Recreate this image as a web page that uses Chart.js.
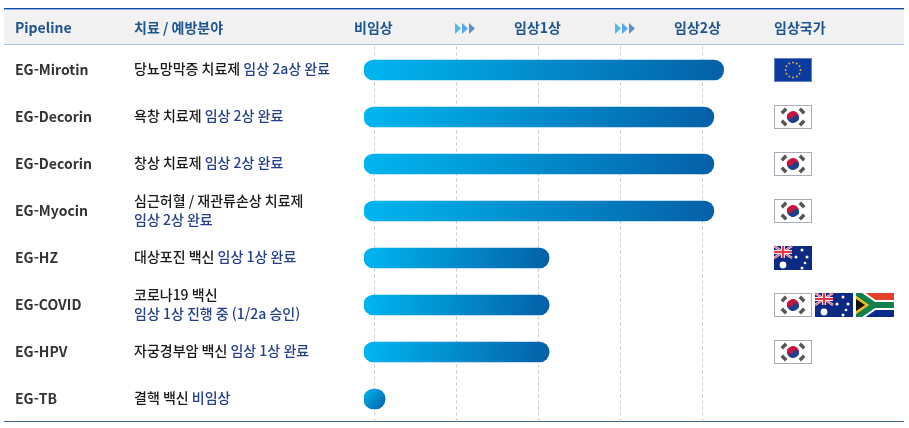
<!DOCTYPE html>
<html lang="ko">
<head>
<meta charset="utf-8">
<title>Pipeline</title>
<script src="https://cdn.jsdelivr.net/npm/chart.js@4/dist/chart.umd.min.js"></script>
<style>
html,body{margin:0;padding:0;background:#fff;}
canvas{display:block;}
</style>
</head>
<body>
<canvas id="c" width="909" height="428"></canvas>
<script>
const pipelines=["EG-Mirotin","EG-Decorin","EG-Decorin","EG-Myocin","EG-HZ","EG-COVID","EG-HPV","EG-TB"];
const treatments=["당뇨망막증 치료제","욕창 치료제","창상 치료제","심근허혈 / 재관류손상 치료제","대상포진 백신","코로나19 백신","자궁경부암 백신","결핵 백신"];
const statuses=["임상 2a상 완료","임상 2상 완료","임상 2상 완료","임상 2상 완료","임상 1상 완료","임상 1상 진행 중 (1/2a 승인)","임상 1상 완료","비임상"];
const twoLines=[false,false,false,true,false,true,false,false];
const barStart=[-0.13,-0.13,-0.13,-0.13,-0.13,-0.13,-0.13,-0.13];
const barEnd=[4.26,4.14,4.14,4.14,2.13,2.13,2.13,0.13];
const countries=[["EU"],["KR"],["KR"],["KR"],["AU"],["KR","AU","ZA"],["KR"],[]];
const headers=[["Pipeline",15],["치료 / 예방분야",134],["비임상",354],["임상1상",514],["임상2상",674],["임상국가",774]];
const arrowX=[455,615];

const FONT='"Noto Sans CJK KR"';
const BLACK="#1a1a1a",BLUE="#243f8c",HEAD="#1d5590";

function barGradient(ctx){
  const chart=ctx.chart;
  if(ctx.type!=="data"||!chart.chartArea)return "#0280c8";
  const x=chart.scales.x,i=ctx.dataIndex,y=chart.scales.y.getPixelForValue(i);
  const g=chart.ctx.createLinearGradient(x.getPixelForValue(barStart[i]),y-10,x.getPixelForValue(barEnd[i]),y+10);
  g.addColorStop(0,"#00b6f0");
  g.addColorStop(1,"#0560a8");
  return g;
}

function flagKR(c,x,y){
  c.fillStyle="#fff";c.fillRect(x,y,38,24);
  c.strokeStyle="#a9adb8";c.lineWidth=1;c.strokeRect(x+.5,y+.5,37,23);
  const cx=x+19,cy=y+12;
  c.fillStyle="#c8143c";c.beginPath();c.arc(cx,cy,6,Math.PI*1.1,Math.PI*.1);c.fill();
  c.fillStyle="#1c3f8c";c.beginPath();c.arc(cx,cy,6,Math.PI*.1,Math.PI*1.1);c.fill();
  c.fillStyle="#c8143c";c.beginPath();c.arc(cx-3,cy-1,3,0,Math.PI*2);c.fill();
  c.fillStyle="#1c3f8c";c.beginPath();c.arc(cx+3,cy+1,3,0,Math.PI*2);c.fill();
  c.strokeStyle="#555";c.lineWidth=3.4;
  [[-9,-6,1],[9,-6,-1],[-9,6,-1],[9,6,1]].forEach(p=>{
    c.beginPath();c.moveTo(cx+p[0]-2.2*p[2],cy+p[1]+2.2);c.lineTo(cx+p[0]+2.2*p[2],cy+p[1]-2.2);c.stroke();
  });
}
function flagEU(c,x,y){
  c.fillStyle="#0b3aa0";c.fillRect(x,y,38,24);
  c.strokeStyle="#5f82c8";c.lineWidth=1;c.strokeRect(x+.5,y+.5,37,23);
  c.fillStyle="#e6c02a";
  for(let i=0;i<12;i++){
    const a=i*Math.PI/6;
    c.beginPath();c.arc(x+19+Math.cos(a)*7.5,y+12+Math.sin(a)*7.5,.9,0,Math.PI*2);c.fill();
  }
}
function flagAU(c,x,y){
  c.fillStyle="#0c2a84";c.fillRect(x,y,38,24);
  c.strokeStyle="#e8dfe6";c.lineWidth=2.4;
  c.beginPath();c.moveTo(x,y);c.lineTo(x+18,y+12);c.moveTo(x+18,y);c.lineTo(x,y+12);c.stroke();
  c.strokeStyle="#e6405a";c.lineWidth=1;
  c.beginPath();c.moveTo(x,y);c.lineTo(x+18,y+12);c.moveTo(x+18,y);c.lineTo(x,y+12);c.stroke();
  c.strokeStyle="#f0e6ea";c.lineWidth=4;
  c.beginPath();c.moveTo(x+9,y);c.lineTo(x+9,y+12);c.moveTo(x,y+6);c.lineTo(x+18,y+6);c.stroke();
  c.strokeStyle="#e4384c";c.lineWidth=2.2;
  c.beginPath();c.moveTo(x+9,y);c.lineTo(x+9,y+12);c.moveTo(x,y+6);c.lineTo(x+18,y+6);c.stroke();
  c.fillStyle="#fff";
  [[9,19,3.4],[28,4,1.5],[22,11,1.5],[33,11,1.5],[31,17,1.3],[28,22,1.5]].forEach(s=>{
    c.beginPath();c.arc(x+s[0],y+s[1],s[2],0,Math.PI*2);c.fill();
  });
}
function flagZA(c,x,y){
  c.fillStyle="#e2402a";c.fillRect(x,y,38,8);
  c.fillStyle="#0c2a8c";c.fillRect(x,y+16,38,8);
  c.fillStyle="#fff";c.fillRect(x,y+7,38,10);
  c.save();c.beginPath();c.rect(x,y,38,24);c.clip();
  c.strokeStyle="#fff";c.lineWidth=10;
  c.beginPath();c.moveTo(x-2,y-2);c.lineTo(x+18,y+12);c.lineTo(x-2,y+26);c.stroke();
  c.strokeStyle="#13804a";c.lineWidth=6;
  c.beginPath();c.moveTo(x-2,y-2);c.lineTo(x+18,y+12);c.lineTo(x+38,y+12);c.moveTo(x+18,y+12);c.lineTo(x-2,y+26);c.stroke();
  c.fillStyle="#f0b820";c.beginPath();c.moveTo(x,y+3);c.lineTo(x+13,y+12);c.lineTo(x,y+21);c.fill();
  c.fillStyle="#111";c.beginPath();c.moveTo(x,y+6);c.lineTo(x+9,y+12);c.lineTo(x,y+18);c.fill();
  c.restore();
}
const flagDraw={KR:flagKR,EU:flagEU,AU:flagAU,ZA:flagZA};
const flagX=[774,815,856];

const tablePlugin={
  id:"table",
  beforeDraw(chart){
    const c=chart.ctx;
    c.save();
    c.fillStyle="#f1f1f1";c.fillRect(4,9,900,35);
    c.fillStyle="#a9c4ea";c.fillRect(4,44,900,1);
    c.fillStyle="#0b50b0";c.fillRect(4,8,900,1.4);
    c.fillStyle="#3f5f8a";c.fillRect(4,421,900,1);
    c.restore();
  },
  afterDraw(chart){
    const c=chart.ctx,y=chart.scales.y;
    c.save();
    c.textBaseline="middle";
    c.textAlign="left";
    c.font='700 14px '+FONT;
    c.fillStyle=HEAD;
    headers.forEach(h=>c.fillText(h[0],h[1],28));
    arrowX.forEach(ax=>{
      ["#4db9e8","#55a9de","#5f8fc8"].forEach((col,i)=>{
        const l=ax+i*7;
        c.fillStyle=col;
        c.beginPath();c.moveTo(l,23);c.lineTo(l+6,28.5);c.lineTo(l,34);c.fill();
      });
    });
    pipelines.forEach((p,i)=>{
      const m=y.getPixelForValue(i);
      c.font='500 14px '+FONT;
      if(twoLines[i]){
        c.fillStyle=BLACK;c.fillText(treatments[i],134,m-10);
        c.fillStyle=BLUE;c.fillText(statuses[i],134,m+9);
      }else{
        c.fillStyle=BLACK;c.fillText(treatments[i],134,m-1);
        const w=c.measureText(treatments[i]+" ").width;
        c.fillStyle=BLUE;c.fillText(statuses[i],134+w,m-1);
      }
      countries[i].forEach((f,k)=>flagDraw[f](c,flagX[k],Math.round(m)-12));
    });
    c.restore();
  }
};

new Chart(document.getElementById("c"),{
  type:"bar",
  data:{
    labels:pipelines,
    datasets:[{
      data:barStart.map((s,i)=>[s,barEnd[i]]),
      backgroundColor:barGradient,
      barThickness:20,
      borderRadius:10,
      borderSkipped:false
    }]
  },
  options:{
    indexAxis:"y",
    responsive:false,
    animation:false,
    layout:{padding:{left:15,right:182,top:46.5,bottom:5.5}},
    plugins:{legend:{display:false},tooltip:{enabled:false}},
    scales:{
      x:{
        min:-0.128,
        max:4.3,
        afterFit(axis){axis.height=0;},
        border:{display:false,dash:[3,3]},
        grid:{color:"#c9c9c9",lineWidth:1,drawTicks:false},
        ticks:{display:false,stepSize:1,includeBounds:false}
      },
      y:{
        // the tick label overflow would otherwise eat the bottom padding
        afterFit(axis){axis.width=349;axis.paddingTop=0;axis.paddingBottom=0;},
        border:{display:false},
        grid:{display:false,drawTicks:false},
        ticks:{
          crossAlign:"far",
          padding:0,
          color:"#333",
          font:{family:FONT,size:14,weight:"700"}
        }
      }
    }
  },
  plugins:[tablePlugin]
});
</script>
</body>
</html>
